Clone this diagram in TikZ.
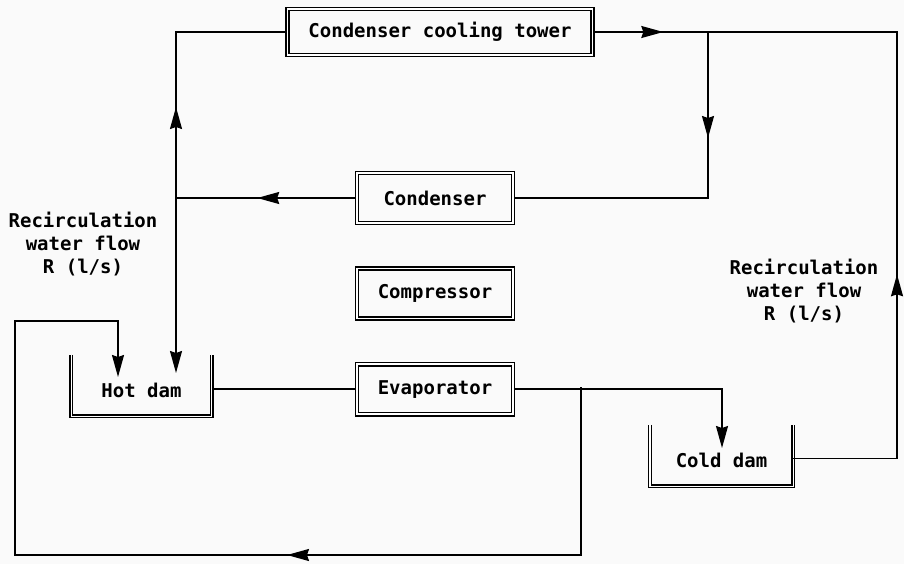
\documentclass[tikz,border=0pt]{standalone}
\usepackage{fontspec}
\setmonofont{DejaVu Sans Mono}
\usetikzlibrary{
    positioning,
    arrows.meta,
    decorations.markings
}
\newcommand{\plantfont}{\fontsize{19}{23}\selectfont\ttfamily\bfseries}

\begin{document}
\begin{tikzpicture}[
    x=1pt, y=-1pt,
    unit/.style={rectangle, draw, double, double distance=1.6pt, line width=1.6pt, minimum width=156pt, minimum height=50pt, inner sep=0pt, font=\plantfont},
    tank/.style={double, double distance=1.4pt, line width=1.4pt},
    dam/.style={rectangle, minimum width=140pt, minimum height=61pt, inner sep=0pt, text height=24pt, text depth=0pt, font=\plantfont},
    note/.style={align=center, font=\plantfont},
    pipe/.style={line width=1.6pt},
    tip/.style={-{Stealth[length=22pt, width=12pt, inset=2pt]}},
    flowmark/.style={postaction={decorate}, decoration={markings, mark=at position #1 with {\arrow{Stealth[length=22pt, width=12pt, inset=2pt]}}}}
]
\fill[black!2] (0,0) rectangle (904,564);
\useasboundingbox (0,0) rectangle (904,564);

% plant units
\node[unit, minimum width=305pt, minimum height=46pt] (tower) at (440,32) {Condenser cooling tower};
\node[unit] (cond) at (435,198) {Condenser};
\node[unit, below=44pt of cond] (comp) {Compressor};
\node[unit, below=44pt of comp] (evap) {Evaporator};

% dams
\node[dam] (hot) at (141.5,385.5) {Hot dam};
\node[dam, minimum width=143pt] (cold) at (721.5,455.5) {Cold dam};
\draw[tank] (hot.north west) -- (hot.south west) -- (hot.south east) -- (hot.north east);
\draw[tank] (cold.north west) -- (cold.south west) -- (cold.south east) -- (cold.north east);

\node[note] (recircL) at (83,244) {Recirculation\\water flow\\R (l/s)};
\node[note] (recircR) at (804,291) {Recirculation\\water flow\\R (l/s)};

% junctions and corners
\coordinate (j1) at (176,198);
\coordinate (j2) at (581,387);
\coordinate (j3) at (708,32);
\coordinate (topR) at (897,32);
\coordinate (lowL) at (15,555);
\coordinate (loop) at (15,321);
\coordinate (hotin) at (176,373);
\coordinate (hotin2) at (118,377);
\coordinate (colin) at (722,448);

% water circuit
\draw[pipe, flowmark=99pt] (cond.west) -- (j1);
\draw[pipe, flowmark=91pt] (j1) |- (tower.west);
\draw[pipe, tip] (j1) -- (hotin);
\draw[pipe, flowmark=70pt] (tower.east) -- (j3);
\draw[pipe, flowmark=288pt] ([yshift=-3pt]cold.east) -| (topR) -- (j3);
\draw[pipe, flowmark=106pt] (j3) |- (cond.east);
\draw[pipe] (evap.west) -- (evap.west -| hot.east);
\draw[pipe, tip] (evap.east) -| (colin);
\draw[pipe, flowmark=462pt, tip] (j2) |- (lowL) -- (loop) -| (hotin2);
\end{tikzpicture}
\end{document}
